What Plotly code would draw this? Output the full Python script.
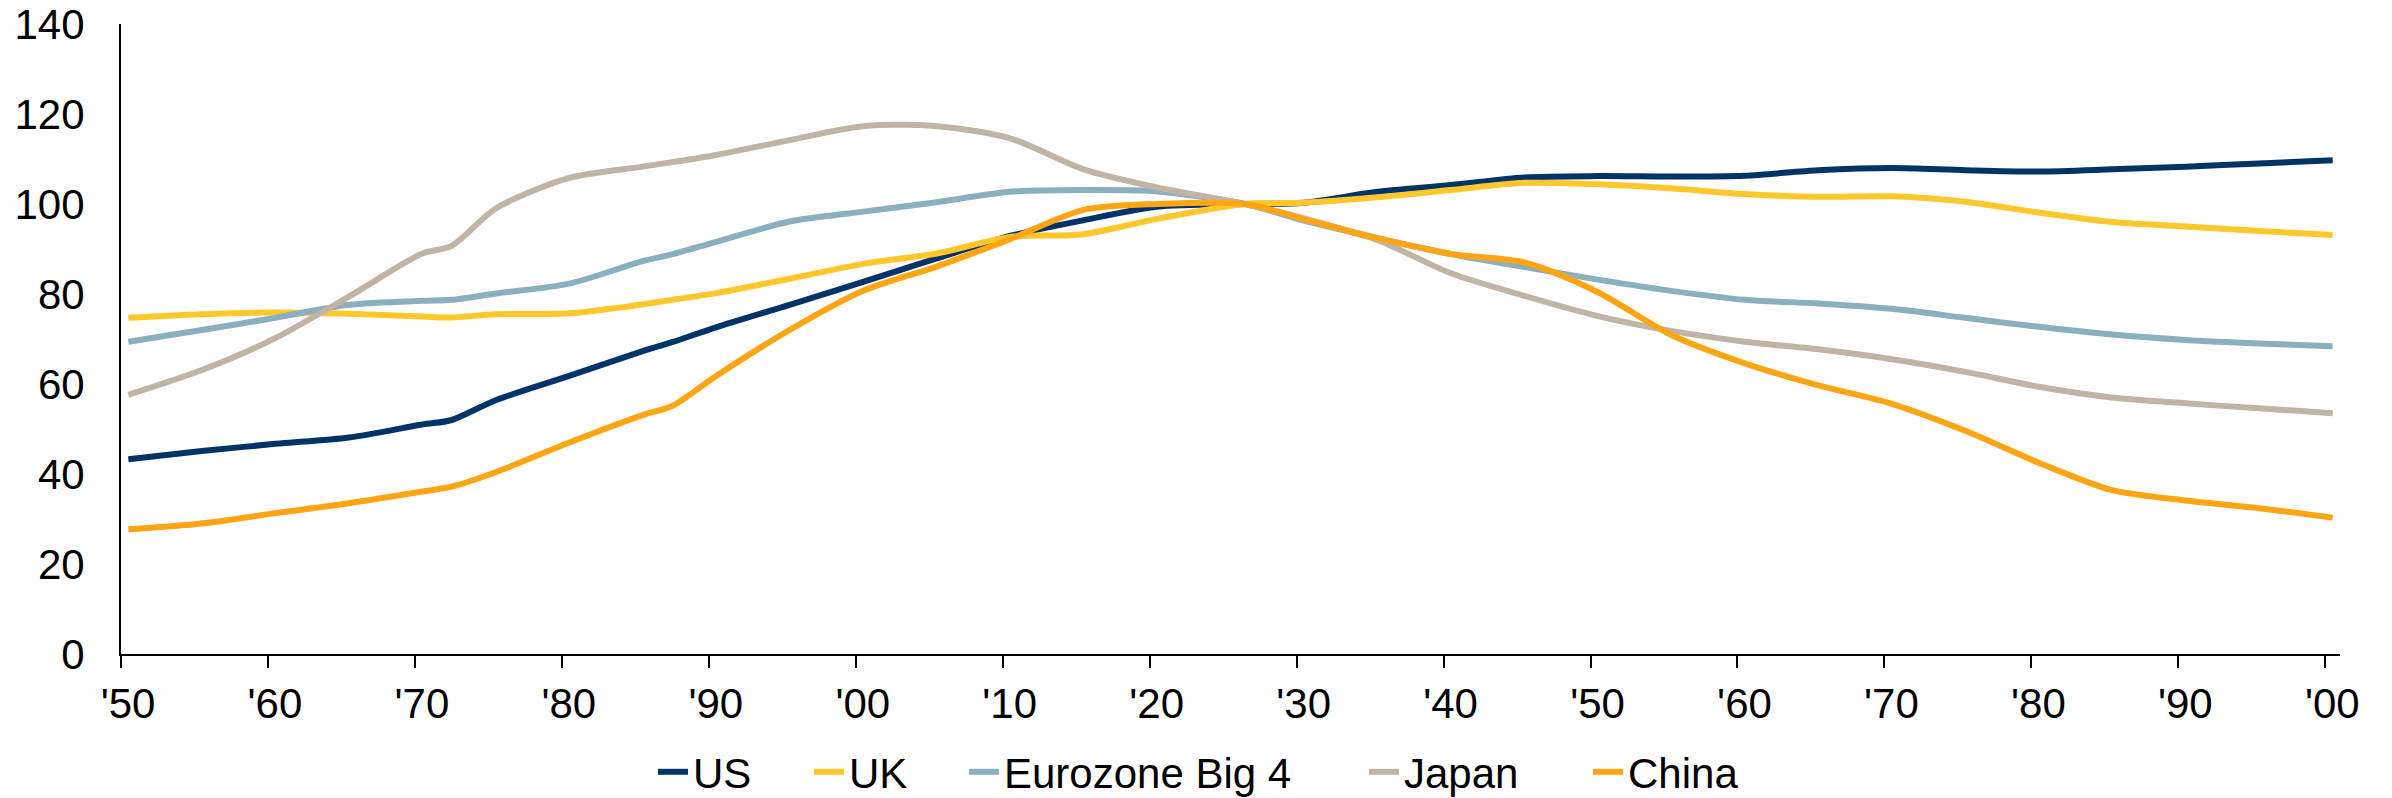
import plotly.graph_objects as go

# Years (data are annual categories; values read at these years)
years = [1950, 1955, 1960, 1965, 1970, 1972, 1975, 1980, 1985, 1987, 1990, 1995,
         2000, 2005, 2010, 2015, 2020, 2026, 2030, 2035, 2040, 2045, 2050, 2055,
         2060, 2065, 2070, 2075, 2080, 2085, 2090, 2095, 2100]

us = [43.3, 45.1, 46.7, 48.1, 51.0, 52.0, 56.4, 61.8, 67.3, 69.3, 72.6, 77.6,
      82.7, 87.9, 92.9, 96.4, 99.4, 100.0, 100.3, 102.7, 104.2, 105.9, 106.2, 106.1,
      106.3, 107.5, 108.0, 107.5, 107.2, 107.7, 108.3, 109.0, 109.7]

uk = [74.7, 75.5, 75.9, 75.6, 75.0, 74.8, 75.5, 75.7, 77.7, 78.7, 80.2, 83.4,
      86.7, 89.0, 92.7, 93.3, 96.7, 100.0, 100.3, 101.5, 103.1, 104.7, 104.4, 103.5,
      102.2, 101.6, 101.7, 100.5, 98.1, 96.0, 95.0, 94.0, 93.1]

eurozone = [69.4, 72.0, 74.7, 77.6, 78.5, 78.7, 80.1, 82.3, 87.3, 88.8, 91.6, 96.1,
            98.3, 100.4, 102.7, 103.1, 102.8, 100.0, 96.3, 92.4, 88.9, 86.0, 83.2, 80.7,
            78.7, 77.9, 76.7, 74.7, 72.7, 71.0, 69.8, 69.0, 68.4]

japan = [57.6, 63.1, 70.2, 79.4, 89.0, 90.7, 99.0, 105.8, 108.3, 109.3, 110.9, 114.2,
         117.3, 117.3, 114.6, 107.7, 103.7, 100.0, 96.8, 92.0, 84.6, 79.6, 75.1, 71.8,
         69.4, 67.7, 65.5, 62.7, 59.4, 57.0, 55.7, 54.6, 53.5]

china = [27.7, 29.0, 31.3, 33.5, 36.1, 37.2, 40.4, 47.0, 53.1, 55.1, 61.8, 72.0,
         80.7, 86.1, 92.2, 98.7, 100.0, 100.0, 96.6, 92.4, 88.9, 87.0, 80.4, 70.9,
         64.6, 59.7, 55.6, 49.6, 42.5, 36.4, 34.1, 32.4, 30.3]

series_names = ["US", "UK", "Eurozone Big 4", "Japan", "China"]
series_values = [us, uk, eurozone, japan, china]
colors = ["#003468", "#FFC72C", "#8AAFC1", "#C1B4A5", "#FFA514"]

# Tick marks sit between annual categories; labels are centred on the category
tick_years = list(range(1950, 2101, 10))
tick_labels = ["'50", "'60", "'70", "'80", "'90", "'00", "'10", "'20", "'30",
               "'40", "'50", "'60", "'70", "'80", "'90", "'00"]

FONT = "Liberation Sans, Arial, sans-serif"
W, H = 2392, 798

# legend entry positions (left edge of each entry, px from the left of the page)
legend_left_px = [653, 809, 964, 1364, 1588]
legend_ids = ["legend", "legend2", "legend3", "legend4", "legend5"]
LEGEND_Y_PX = 772

fig = go.Figure()
for name, vals, col, lid in zip(series_names, series_values, colors, legend_ids):
    fig.add_trace(go.Scatter(
        x=years, y=vals, name=name, mode="lines", legend=lid,
        line=dict(color=col, width=6, shape="spline", smoothing=0.8),
    ))

layout_legends = {}
for lid, px in zip(legend_ids, legend_left_px):
    layout_legends[lid] = dict(
        orientation="h", xref="container", yref="container",
        x=px / W, xanchor="left", y=1 - LEGEND_Y_PX / H, yanchor="middle",
        font=dict(family=FONT, size=42, color="black"),
        bgcolor="rgba(0,0,0,0)", borderwidth=0,
    )

fig.update_layout(
    width=W, height=H,
    paper_bgcolor="white", plot_bgcolor="white",
    margin=dict(l=121, r=52, t=24, b=144, autoexpand=False),
    font=dict(family=FONT, size=42, color="black"),
    showlegend=True,
    **layout_legends,
)

fig.update_xaxes(
    range=[1949.5, 2100.5],
    tickmode="array",
    tickvals=[y - 0.5 for y in tick_years],
    ticktext=tick_labels,
    ticklabelshift=7,
    ticks="outside", ticklen=12, tickwidth=2, tickcolor="black",
    showline=True, linecolor="black", linewidth=2,
    showgrid=False, zeroline=False,
    tickfont=dict(family=FONT, size=42, color="black"),
)
fig.update_yaxes(
    range=[0, 140],
    tickmode="array", tickvals=[0, 20, 40, 60, 80, 100, 120, 140],
    ticks="", showline=True, linecolor="black", linewidth=2,
    showgrid=False, zeroline=False,
    ticklabelstandoff=26,
    tickfont=dict(family=FONT, size=42, color="black"),
)

fig.write_html(
    "out.html",
    config={"displayModeBar": False},
    post_script="document.body.style.margin='0';document.body.style.overflow='hidden';",
)
